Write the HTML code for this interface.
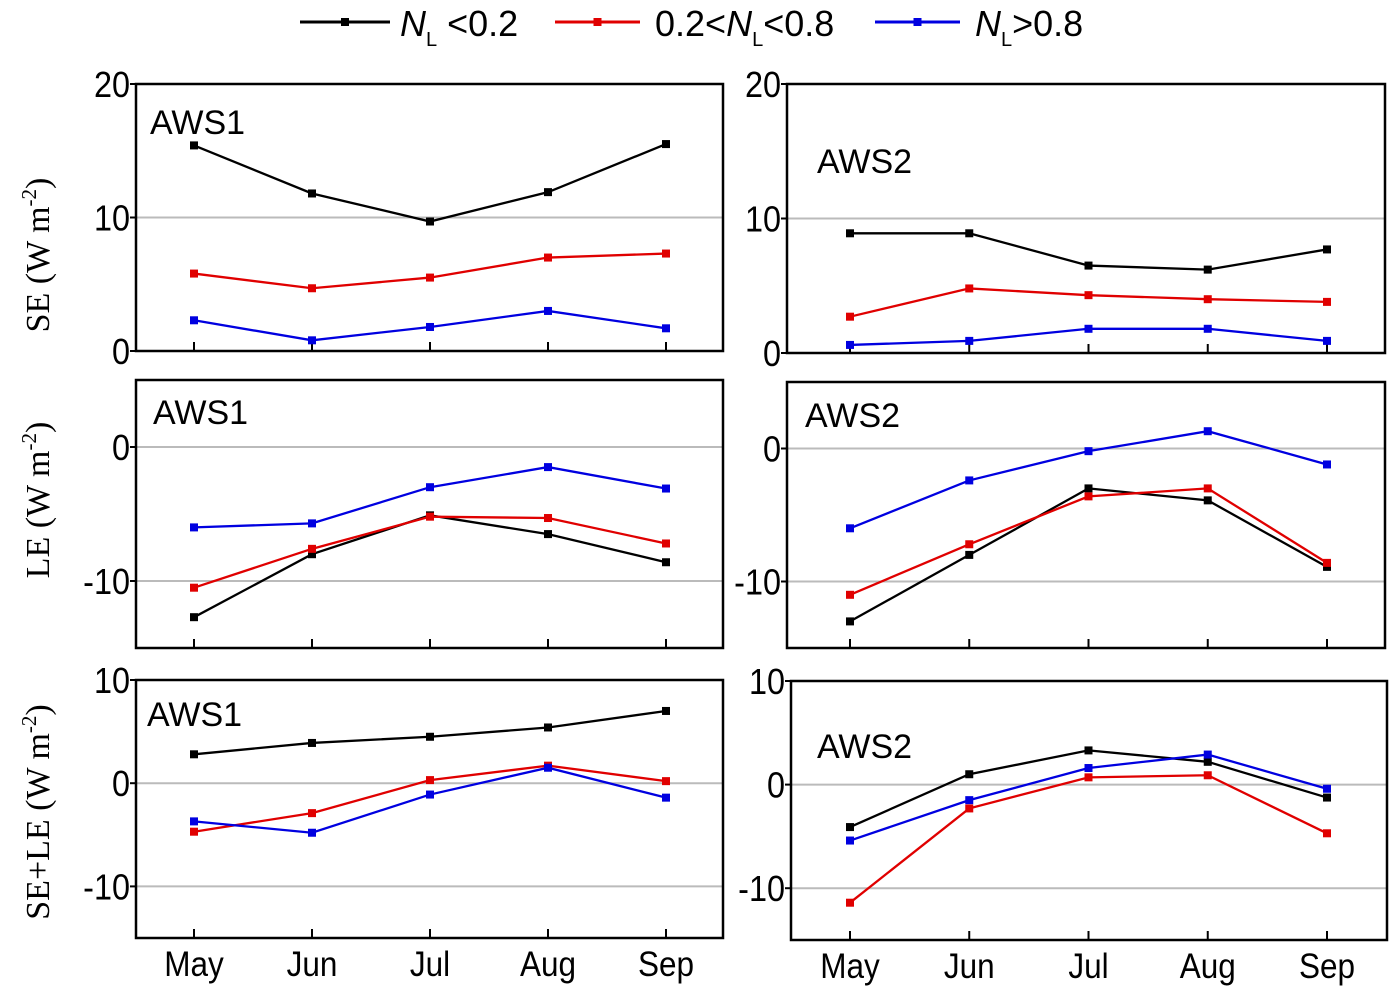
<!DOCTYPE html>
<html><head><meta charset="utf-8"><style>
body{margin:0;background:#fff;}
svg{display:block;font-family:"Liberation Sans",sans-serif;}
</style></head><body>
<svg id="c" width="1400" height="997" viewBox="0 0 1400 997"></svg>
<script>
const months=["May","Jun","Jul","Aug","Sep"];
const seriesNames=["NL<0.2","0.2<NL<0.8","NL>0.8"];
const colors=["#000","#e00000","#0000e0"];
const tlBlack=[15.4,11.8,9.7,11.9,15.5], tlRed=[5.8,4.7,5.5,7.0,7.3], tlBlue=[2.3,0.8,1.8,3.0,1.7];
const trBlack=[8.9,8.9,6.5,6.2,7.7], trRed=[2.7,4.8,4.3,4.0,3.8], trBlue=[0.6,0.9,1.8,1.8,0.9];
const mlBlack=[-12.7,-8.0,-5.1,-6.5,-8.6], mlRed=[-10.5,-7.6,-5.2,-5.3,-7.2], mlBlue=[-6.0,-5.7,-3.0,-1.5,-3.1];
const mrBlack=[-13.0,-8.0,-3.0,-3.9,-8.9], mrRed=[-11.0,-7.2,-3.6,-3.0,-8.6], mrBlue=[-6.0,-2.4,-0.2,1.3,-1.2];
const blBlack=[2.8,3.9,4.5,5.4,7.0], blRed=[-4.7,-2.9,0.3,1.7,0.2], blBlue=[-3.7,-4.8,-1.1,1.5,-1.4];
const brBlack=[-4.1,1.0,3.3,2.2,-1.25], brRed=[-11.4,-2.3,0.7,0.9,-4.7], brBlue=[-5.4,-1.5,1.6,2.9,-0.4];
const topTicks=[0,10,20], midTicks=[-10,0], botTicks=[-10,0,10];

const NS="http://www.w3.org/2000/svg";
const svg=document.getElementById('c');
function mk(t,a,p){const e=document.createElementNS(NS,t);for(const k in a)e.setAttribute(k,a[k]);(p||svg).appendChild(e);return e;}

const panels=[
 {name:"se-aws1",x0:136,x1:723,y0:84,y1:351,ymin:0,ymax:20,ticks:topTicks,grid:[10],data:[tlBlack,tlRed,tlBlue],mx0:194,mx1:666,lab:"AWS1",lx:150,ly:134,xlabels:false},
 {name:"se-aws2",x0:787,x1:1385,y0:84,y1:353,ymin:0,ymax:20,ticks:topTicks,grid:[10],data:[trBlack,trRed,trBlue],mx0:850,mx1:1327,lab:"AWS2",lx:817,ly:173,xlabels:false},
 {name:"le-aws1",x0:136,x1:723,y0:380,y1:648,ymin:-15,ymax:5,ticks:midTicks,grid:[0,-10],data:[mlBlack,mlRed,mlBlue],mx0:194,mx1:666,lab:"AWS1",lx:153,ly:424,xlabels:false},
 {name:"le-aws2",x0:787,x1:1385,y0:382,y1:648,ymin:-15,ymax:5,ticks:midTicks,grid:[0,-10],data:[mrBlack,mrRed,mrBlue],mx0:850,mx1:1327,lab:"AWS2",lx:805,ly:427,xlabels:false},
 {name:"sele-aws1",x0:136,x1:723,y0:680,y1:938,ymin:-15,ymax:10,ticks:botTicks,grid:[0,-10],data:[blBlack,blRed,blBlue],mx0:194,mx1:666,lab:"AWS1",lx:147,ly:726,xlabels:true},
 {name:"sele-aws2",x0:791,x1:1387,y0:681,y1:940,ymin:-15,ymax:10,ticks:botTicks,grid:[0,-10],data:[brBlack,brRed,brBlue],mx0:850,mx1:1327,lab:"AWS2",lx:817,ly:758,xlabels:true}
];

panels.forEach(p=>{
  const g=mk('g',{});
  
  
  const ys=v=>p.y1-(v-p.ymin)/(p.ymax-p.ymin)*(p.y1-p.y0);
  const xs=i=>p.mx0+i*(p.mx1-p.mx0)/(months.length-1);
  p.grid.forEach(v=>{const l=mk('line',{x1:p.x0,x2:p.x1,y1:ys(v),y2:ys(v),stroke:'#bbb','stroke-width':2},g);
    });
  const r=mk('rect',{x:p.x0,y:p.y0,width:p.x1-p.x0,height:p.y1-p.y0,fill:'none',stroke:'#000','stroke-width':2.5},g);
  
  p.ticks.forEach(v=>{
    mk('line',{x1:p.x0-6,x2:p.x0,y1:ys(v),y2:ys(v),stroke:'#000','stroke-width':2},g);
    const t=mk('text',{x:p.x0-6,y:ys(v)+13,'text-anchor':'end','font-size':36,transform:`translate(${(p.x0-6)*0.1},0) scale(0.9,1)`},g);
    t.textContent=v;
    
  });
  months.forEach((m,i)=>{
    mk('line',{x1:xs(i),x2:xs(i),y1:p.y1,y2:p.y1-9,stroke:'#000','stroke-width':2},g);
    if(p.xlabels){const t=mk('text',{x:xs(i),y:p.y1+38,'text-anchor':'middle','font-size':35,transform:`translate(${xs(i)*0.1},0) scale(0.9,1)`},g);t.textContent=m;
      }
  });
  p.data.forEach((arr,si)=>{
    const pts=arr.map((v,i)=>xs(i)+','+ys(v)).join(' ');
    const pl=mk('polyline',{points:pts,fill:'none',stroke:colors[si],'stroke-width':2.3},g);
    
    arr.forEach((v,i)=>{const q=mk('rect',{x:xs(i)-4,y:ys(v)-4,width:8,height:8,fill:colors[si]},g);
      });
  });
  const t=mk('text',{x:p.lx,y:p.ly,'font-size':34},g);t.textContent=p.lab;
  
});

// y-axis titles
[["SE (W m",255],["LE (W m",500],["SE+LE (W m",812]].forEach(([s,cy])=>{
  const t=mk('text',{transform:`translate(49,${cy}) rotate(-90)`,'text-anchor':'middle','font-size':34,'font-family':'"Liberation Serif",serif'});
  
  t.innerHTML=s+'<tspan dy="-13" font-size="21">-2</tspan><tspan dy="13">)</tspan>';
});

// legend
const leg=[[300,390,400,'<tspan font-style="italic">N</tspan><tspan dy="10" font-size="20">L</tspan><tspan dy="-10"> &lt;0.2</tspan>'],
 [555,640,655,'0.2&lt;<tspan font-style="italic">N</tspan><tspan dy="10" font-size="20">L</tspan><tspan dy="-10">&lt;0.8</tspan>'],
 [875,960,975,'<tspan font-style="italic">N</tspan><tspan dy="10" font-size="20">L</tspan><tspan dy="-10">&gt;0.8</tspan>']];
leg.forEach((l,i)=>{
  const g=mk('g',{});
  
  mk('line',{x1:l[0],x2:l[1],y1:22,y2:22,stroke:colors[i],'stroke-width':3},g);
  mk('rect',{x:(l[0]+l[1])/2-4,y:18,width:8,height:8,fill:colors[i]},g);
  const t=mk('text',{x:l[2],y:36,'font-size':36},g);t.innerHTML=l[3];
});
</script>
</body></html>
